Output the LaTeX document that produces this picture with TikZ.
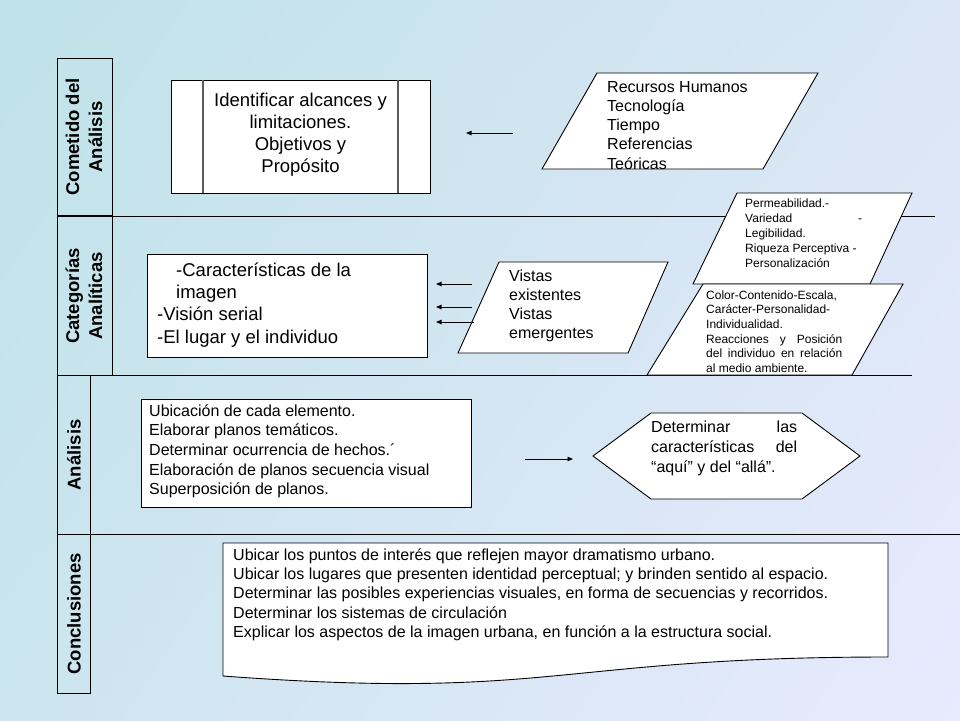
\documentclass[tikz,border=0pt]{standalone}
\usepackage{fontspec}
\setmainfont{Liberation Sans}
\usetikzlibrary{arrows.meta,shadings}
\definecolor{bgA}{RGB}{190,226,232}
\definecolor{bgB}{RGB}{218,230,245}
\definecolor{bgC}{RGB}{204,229,238}
\definecolor{bgD}{RGB}{232,234,254}
\definecolor{procgray}{RGB}{90,90,90}
\tikzset{
  shapebox/.style={draw=black, fill=white, line width=0.9pt},
  rule/.style={draw=black, line width=1pt},
  txt/.style={inner sep=0pt, anchor=north west, align=left},
  label/.style={inner sep=0pt, rotate=90, align=center, font=\fontsize{18.5}{23}\selectfont\bfseries},
  arr/.style={draw=black, line width=0.9pt, -{Triangle[length=5.5pt,width=4.5pt]}},
}
\begin{document}
\begin{tikzpicture}[x=1pt,y=-1pt]
\useasboundingbox (0,0) rectangle (960,720);
\shade[upper left=bgA, upper right=bgB, lower left=bgC, lower right=bgD] (0,0) rectangle (960,720);

% lane rules
\draw[rule] (57,58) rectangle (112,375);
\draw[rule] (57,375) rectangle (90,693);
\draw[draw=black, line width=2.2pt] (57,216) -- (112,216);
\draw[rule] (112,216) -- (935,216);
\draw[rule] (57,375) -- (912,375);
\draw[rule] (57,534) -- (960,534);

% lane labels
\node[label] (lcom) at (84,137) {Cometido del\\Análisis};
\node[label] (lcat) at (84,296) {Categorías\\Analíticas};
\node[label] (lana) at (74,455) {Análisis};
\node[label] (lcon) at (74,614) {Conclusiones};

% Box 1 (process)
\draw[shapebox] (171,80) rectangle (430,193);
\draw[draw=procgray, line width=1.2pt] (203,80) -- (203,193);
\draw[draw=procgray, line width=1.2pt] (398,80) -- (398,193);
\node[inner sep=0pt, anchor=north, align=center, font=\fontsize{18.5}{22}\selectfont] (t1) at (300.5,90.6)
  {\strut Identificar alcances y\\limitaciones.\\Objetivos y\\Propósito};

% Recursos parallelogram
\draw[shapebox] (597,73) -- (818,73) -- (763,169) -- (542,169) -- cycle;
\node[txt, font=\fontsize{16}{19.2}\selectfont] (t2) at (607,78.6)
  {\strut Recursos Humanos\\Tecnología\\Tiempo\\Referencias\\Teóricas};
\coordinate (a1s) at (513,133);
\coordinate (a1e) at (466,133);
\draw[arr] (a1s) -- (a1e);

% Box 2
\draw[shapebox] (147,254) rectangle (427,357);
\node[txt, font=\fontsize{18.5}{22.4}\selectfont] (t3) at (157,260.3)
  {\strut\hspace{19pt}-Características de la\\\hspace{19pt}imagen\\-Visión serial\\-El lugar y el individuo};

% Vistas
\draw[shapebox] (499,262) -- (668,262) -- (628,353) -- (458,353) -- cycle;
\node[txt, font=\fontsize{16}{19}\selectfont] (t4) at (509,267.7)
  {\strut Vistas\\existentes\\Vistas\\emergentes};
\coordinate (a2s) at (472,284);
\coordinate (a2e) at (436,284);
\coordinate (a3s) at (472,307);
\coordinate (a3e) at (436,307);
\coordinate (a4s) at (474,322);
\coordinate (a4e) at (436,322);
\draw[arr] (a2s) -- (a2e);
\draw[arr] (a3s) -- (a3e);
\draw[arr] (a4s) -- (a4e);

% Permeabilidad
\draw[shapebox] (737,193) -- (912,193) -- (870,284) -- (693,284) -- cycle;
\node[txt, font=\fontsize{12}{15}\selectfont] (t5) at (745,196.5)
  {\strut Permeabilidad.-\\\makebox[117pt][l]{Variedad\hfill-}\\Legibilidad.\\Riqueza Perceptiva -\\Personalización};

% Color
\draw[shapebox] (703,284) -- (903,284) -- (852,375) -- (647,375) -- cycle;
\node[txt, font=\fontsize{12}{14.7}\selectfont] (t6) at (706,288.7)
  {\strut Color-Contenido-Escala,\\Carácter-Personalidad-\\Individualidad.\\\makebox[136pt][s]{Reacciones y Posición}\\\makebox[136pt][s]{del individuo en relación}\\al medio ambiente.};

% Box 3
\draw[shapebox] (141,399) rectangle (471,507);
\node[txt, font=\fontsize{16}{19.6}\selectfont] (t7) at (149,402.3)
  {\strut Ubicación de cada elemento.\\Elaborar planos temáticos.\\Determinar ocurrencia de hechos.´\\Elaboración de planos secuencia visual\\Superposición de planos.};
\coordinate (a5s) at (525,459);
\coordinate (a5e) at (573,459);
\draw[arr] (a5s) -- (a5e);

% Hexagon
\draw[shapebox] (593,456) -- (651,413) -- (802,413) -- (860,456) -- (802,499) -- (651,499) -- cycle;
\node[txt, font=\fontsize{16}{20}\selectfont] (t8) at (651,418)
  {\strut\makebox[146pt][s]{Determinar las}\\\makebox[146pt][s]{características del}\\“aquí” y del “allá”.};

% Conclusions document
\draw[shapebox] (223,543) -- (888,543) -- (888,657) .. controls (555.5,657) and (555.5,700.7) .. (223,676) -- cycle;
\node[txt, font=\fontsize{16}{19.3}\selectfont] (t9) at (233,546.5)
  {\strut Ubicar los puntos de interés que reflejen mayor dramatismo urbano.\\Ubicar los lugares que presenten identidad perceptual; y brinden sentido al espacio.\\Determinar las posibles experiencias visuales, en forma de secuencias y recorridos.\\Determinar los sistemas de circulación\\Explicar los aspectos de la imagen urbana, en función a la estructura social.};
\end{tikzpicture}
\end{document}
